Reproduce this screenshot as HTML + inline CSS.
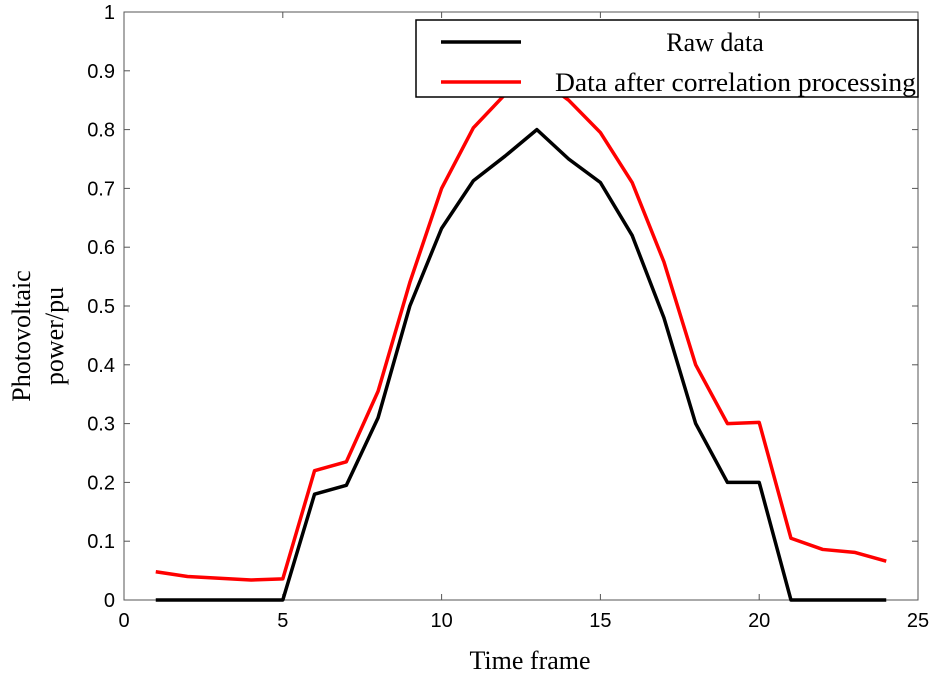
<!DOCTYPE html>
<html><head><meta charset="utf-8"><style>
body{margin:0;background:#fff}
svg{display:block}
.t{font-family:"Liberation Sans",sans-serif;font-size:20px;fill:#000}
.s{font-family:"Liberation Serif",serif;font-size:26px;fill:#000}
</style></head><body>
<svg id="c" width="935" height="674"></svg>
<script>
const xs=[1,2,3,4,5,6,7,8,9,10,11,12,13,14,15,16,17,18,19,20,21,22,23,24];
const rawData=[0,0,0,0,0,0.18,0.195,0.31,0.5,0.632,0.713,0.755,0.8,0.75,0.71,0.62,0.48,0.3,0.2,0.2,0,0,0,0];
const corrData=[0.048,0.04,0.037,0.034,0.036,0.22,0.235,0.355,0.54,0.70,0.803,0.86,0.89,0.85,0.795,0.71,0.575,0.4,0.3,0.302,0.105,0.086,0.081,0.066];
const xTicks=[0,5,10,15,20,25];
const yTicks=[0,0.1,0.2,0.3,0.4,0.5,0.6,0.7,0.8,0.9,1];
const L=124,R=918,T=12,B=600;
const X=v=>L+(v-0)/25*(R-L), Y=v=>B-v*(B-T);
const svg=document.getElementById('c'),NS='http://www.w3.org/2000/svg';
function mk(tag,at,txt){const e=document.createElementNS(NS,tag);for(const k in at)e.setAttribute(k,at[k]);if(txt!==undefined)e.textContent=txt;svg.appendChild(e);return e;}
let e=mk('rect',{x:L,y:T,width:R-L,height:B-T,fill:'none',stroke:'#555','stroke-width':1});


xTicks.forEach(v=>{
 e=mk('line',{x1:X(v),x2:X(v),y1:B,y2:B-6,stroke:'#555'});
 
 
 mk('line',{x1:X(v),x2:X(v),y1:T,y2:T+6,stroke:'#555'});
 e=mk('text',{x:X(v),y:B+27,'text-anchor':'middle',class:'t'},String(v));
 
 
});
yTicks.forEach(v=>{
 e=mk('line',{x1:L,x2:L+6,y1:Y(v),y2:Y(v),stroke:'#555'});
 
 
 mk('line',{x1:R,x2:R-6,y1:Y(v),y2:Y(v),stroke:'#555'});
 e=mk('text',{x:L-9,y:Y(v)+7,'text-anchor':'end',class:'t'},String(v));
 
 
});
function line(d,col,name){const p=xs.map((x,i)=>X(x)+','+Y(d[i])).join(' ');
 const el=mk('polyline',{points:p,fill:'none',stroke:col,'stroke-width':3.5,'stroke-linejoin':'round'});
 
 }
line(rawData,'#000','raw-data-line');
line(corrData,'#f00','correlation-data-line');
e=mk('rect',{x:416,y:20,width:502,height:77,fill:'#fff',stroke:'#000','stroke-width':1.5});


mk('line',{x1:441,x2:521,y1:42,y2:42,stroke:'#000','stroke-width':3.5});
mk('line',{x1:441,x2:521,y1:82,y2:82,stroke:'#f00','stroke-width':3.5});
e=mk('text',{x:715,y:51,'text-anchor':'middle',class:'s'},'Raw data');


e=mk('text',{x:555,y:91,class:'s',textLength:361,lengthAdjust:'spacingAndGlyphs'},'Data after correlation processing');


e=mk('text',{x:530,y:669,'text-anchor':'middle',class:'s'},'Time frame');


e=mk('text',{x:0,y:0,'text-anchor':'middle',class:'s',transform:'translate(30,336) rotate(-90)'},'Photovoltaic');


mk('text',{x:0,y:0,'text-anchor':'middle',class:'s',transform:'translate(63,336) rotate(-90)'},'power/pu');
</script>
</body></html>
